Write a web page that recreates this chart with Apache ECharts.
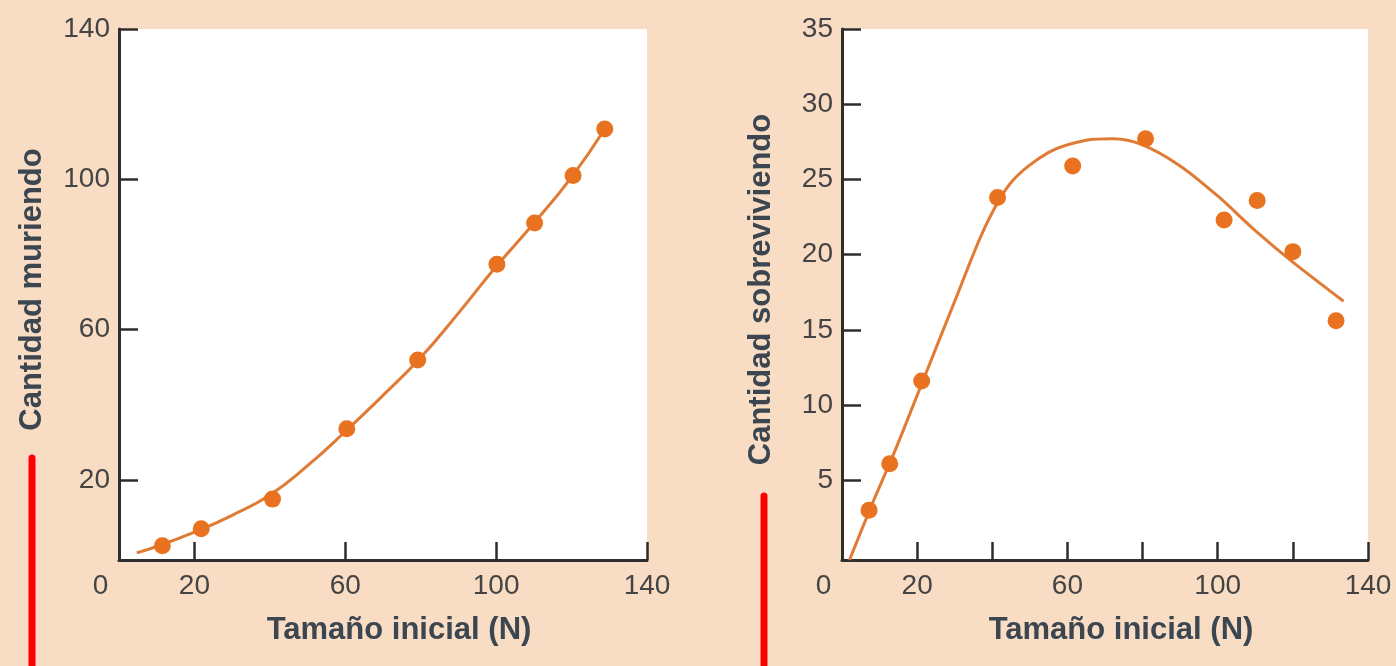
<!DOCTYPE html>
<html>
<head>
<meta charset="utf-8">
<script src="https://cdn.jsdelivr.net/npm/echarts@6/dist/echarts.min.js"></script>
<style>
  html, body { margin: 0; padding: 0; background: #f8dcc4; }
  #chart { width: 1396px; height: 666px; }
</style>
</head>
<body>
<div id="chart"></div>
<script>
// Left panel: number dying vs initial size
const deadN = [11.5, 21.8, 40.7, 60.4, 79.2, 100.2, 110.2, 120.4, 128.8];
const deadCount = [2.5, 7.0, 14.9, 33.6, 51.9, 77.4, 88.4, 101.0, 113.4];
const deadFitN = [4.7, 10, 20, 30, 40, 50, 60, 70, 80, 90, 100, 110, 120, 128.8];
const deadFitCount = [0.6, 2.3, 6.1, 10.6, 16.0, 23.8, 32.9, 42.5, 52.6, 64.4, 76.8, 88.3, 100.6, 113.4];

// Right panel: number surviving vs initial size
const aliveN = [7.2, 12.7, 21.2, 41.4, 61.4, 80.8, 101.7, 110.5, 120.0, 131.5];
const aliveCount = [3.0, 6.1, 11.6, 23.8, 25.9, 27.7, 22.3, 23.6, 20.2, 15.6];
const aliveFitN = [2, 8, 14, 22, 30, 38, 45, 55, 65, 72, 80, 90, 100, 110, 120, 133.5];
const aliveFitCount = [-0.3, 3.4, 6.9, 11.9, 16.9, 21.8, 24.8, 26.8, 27.6, 27.7, 27.3, 25.9, 23.9, 21.6, 19.5, 16.9];

// Tick marks and labels
const xTicksLeft = [20, 60, 100, 140];
const xTicksRight = [20, 40, 60, 80, 100, 120, 140];
const xLabels = [0, 20, 60, 100, 140];
const yTicksLeft = [20, 60, 100, 140];
const yTicksRight = [5, 10, 15, 20, 25, 30, 35];

const xTitle = 'Tamaño inicial (N)';
const yTitleLeft = 'Cantidad muriendo';
const yTitleRight = 'Cantidad sobreviviendo';

const FONT = "'Liberation Sans', Arial, sans-serif";
const AXIS = '#2e2e2e';
const LABEL = '#444444';
const TITLE = '#3c4650';
const ORANGE_LINE = '#e07b35';
const ORANGE_DOT = '#e8721f';

const pair = (xs, ys) => xs.map((x, i) => [x, ys[i]]);

function xAxisDef(gridIndex, ticks) {
  return {
    type: 'value', gridIndex, min: 0, max: 140,
    axisLine: { onZero: false, lineStyle: { color: AXIS, width: 3 } },
    axisTick: { show: true, inside: true, length: 18, customValues: ticks, lineStyle: { color: AXIS, width: 2.5 } },
    axisLabel: {
      customValues: xLabels, margin: 12, color: LABEL, fontSize: 28, fontFamily: FONT,
      formatter: v => v === 0 ? '{o|0}' : String(v),
      rich: { o: { fontSize: 28, fontFamily: FONT, color: LABEL, padding: [0, 37, 0, 0] } }
    },
    splitLine: { show: false },
    name: xTitle, nameLocation: 'middle', nameGap: 55,
    nameTextStyle: { fontSize: 31, fontWeight: 'bold', color: TITLE, fontFamily: FONT, padding: [0, 0, 0, 32] }
  };
}

function yAxisDef(gridIndex, min, max, ticks, title, gap) {
  return {
    type: 'value', gridIndex, min, max,
    axisLine: { show: true, onZero: false, lineStyle: { color: AXIS, width: 3 } },
    axisTick: { show: true, inside: true, length: 19, customValues: ticks, lineStyle: { color: AXIS, width: 2.5 } },
    axisLabel: { customValues: ticks, margin: 9, color: LABEL, fontSize: 28, fontFamily: FONT },
    splitLine: { show: false },
    name: title, nameLocation: 'middle', nameRotate: 90, nameGap: gap,
    nameTextStyle: { fontSize: 31, fontWeight: 'bold', color: TITLE, fontFamily: FONT, padding: [0, 0, 0, 10] }
  };
}

const chart = echarts.init(document.getElementById('chart'), null, { renderer: 'canvas' });

chart.setOption({
  backgroundColor: '#f8dcc4',
  animation: false,
  grid: [
    { left: 119, top: 29, width: 528, height: 531, show: true, backgroundColor: '#ffffff', borderWidth: 0 },
    { left: 842, top: 29, width: 526, height: 531, show: true, backgroundColor: '#ffffff', borderWidth: 0 }
  ],
  xAxis: [xAxisDef(0, xTicksLeft), xAxisDef(1, xTicksRight)],
  yAxis: [
    yAxisDef(0, -1.3, 140, yTicksLeft, yTitleLeft, 71),
    yAxisDef(1, -0.3, 35, yTicksRight, yTitleRight, 65)
  ],
  series: [
    {
      type: 'line', xAxisIndex: 0, yAxisIndex: 0, smooth: 0.5, showSymbol: false,
      lineStyle: { color: ORANGE_LINE, width: 3 }, data: pair(deadFitN, deadFitCount), z: 2
    },
    {
      type: 'scatter', xAxisIndex: 0, yAxisIndex: 0, symbolSize: 17,
      itemStyle: { color: ORANGE_DOT, opacity: 1 }, data: pair(deadN, deadCount), z: 3
    },
    {
      type: 'line', xAxisIndex: 1, yAxisIndex: 1, smooth: 0.3, showSymbol: false,
      lineStyle: { color: ORANGE_LINE, width: 3 }, data: pair(aliveFitN, aliveFitCount), z: 2,
      clip: true
    },
    {
      type: 'scatter', xAxisIndex: 1, yAxisIndex: 1, symbolSize: 17,
      itemStyle: { color: ORANGE_DOT, opacity: 1 }, data: pair(aliveN, aliveCount), z: 3
    }
  ],
  graphic: [
    { type: 'line', shape: { x1: 32, y1: 458, x2: 32, y2: 680 }, style: { stroke: '#ff0000', lineWidth: 7, lineCap: 'round' } },
    { type: 'line', shape: { x1: 764, y1: 496, x2: 764, y2: 680 }, style: { stroke: '#ff0000', lineWidth: 7, lineCap: 'round' } }
  ]
});
</script>
</body>
</html>
